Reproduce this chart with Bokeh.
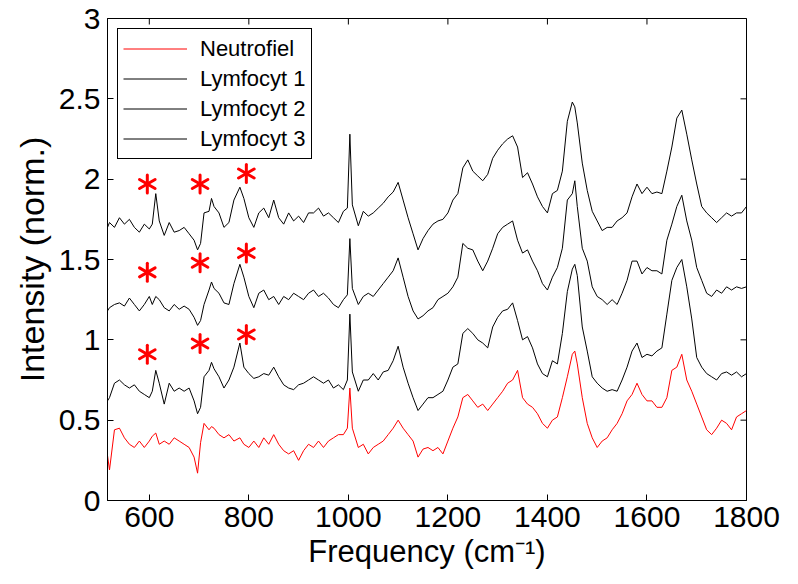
import math
from bokeh.plotting import figure
from bokeh.models import Range1d, FixedTicker, Legend, LegendItem, ColumnDataSource
from bokeh.embed import file_html
from bokeh.resources import INLINE

# ---------------- data ----------------
freq = [516, 520, 530, 540, 550, 560, 570, 580, 590, 600,
        606, 613, 620, 630, 640, 650, 660, 670, 680, 690,
        697, 703, 710, 720, 725, 730, 740, 750, 760, 770,
        782, 790, 800, 810, 820, 830, 840, 850, 860, 870,
        880, 890, 900, 910, 920, 930, 940, 950, 960, 970,
        980, 990, 998, 1003, 1008, 1020, 1030, 1040, 1050, 1060,
        1070, 1080, 1090, 1100, 1110, 1120, 1130, 1140, 1150, 1160,
        1170, 1180, 1190, 1200, 1210, 1220, 1230, 1240, 1250, 1260,
        1270, 1280, 1290, 1300, 1310, 1320, 1330, 1340, 1350, 1360,
        1370, 1380, 1390, 1400, 1410, 1420, 1430, 1440, 1450, 1455,
        1460, 1470, 1480, 1490, 1500, 1510, 1520, 1530, 1540, 1550,
        1560, 1570, 1580, 1590, 1600, 1610, 1620, 1630, 1640, 1650,
        1660, 1670, 1680, 1690, 1700, 1710, 1720, 1730, 1740, 1750,
        1760, 1770, 1780, 1790, 1800]

neutrofiel = [0.28, 0.19, 0.44, 0.45, 0.39, 0.35, 0.33, 0.37, 0.33, 0.37,
              0.40, 0.42, 0.35, 0.37, 0.35, 0.39, 0.37, 0.35, 0.33, 0.27,
              0.17, 0.36, 0.48, 0.44, 0.46, 0.45, 0.41, 0.39, 0.41, 0.37,
              0.39, 0.35, 0.33, 0.37, 0.33, 0.39, 0.35, 0.41, 0.35, 0.31,
              0.29, 0.31, 0.25, 0.31, 0.35, 0.33, 0.37, 0.33, 0.37, 0.39,
              0.41, 0.41, 0.45, 0.70, 0.45, 0.33, 0.35, 0.29, 0.33, 0.35,
              0.37, 0.41, 0.45, 0.50, 0.45, 0.41, 0.37, 0.27, 0.32, 0.33,
              0.31, 0.33, 0.29, 0.37, 0.45, 0.52, 0.64, 0.66, 0.62, 0.58,
              0.60, 0.56, 0.60, 0.64, 0.68, 0.73, 0.75, 0.81, 0.64, 0.60,
              0.58, 0.54, 0.48, 0.45, 0.50, 0.52, 0.64, 0.77, 0.91, 0.93,
              0.85, 0.64, 0.48, 0.39, 0.33, 0.37, 0.39, 0.44, 0.48, 0.54,
              0.62, 0.66, 0.73, 0.66, 0.62, 0.62, 0.58, 0.58, 0.64, 0.81,
              0.83, 0.91, 0.75, 0.68, 0.60, 0.52, 0.44, 0.41, 0.45, 0.50,
              0.48, 0.44, 0.52, 0.54, 0.56]

lymfocyt1 = [0.62, 0.64, 0.73, 0.75, 0.72, 0.70, 0.72, 0.68, 0.66, 0.64,
             0.68, 0.81, 0.73, 0.60, 0.73, 0.68, 0.70, 0.68, 0.70, 0.62,
             0.54, 0.58, 0.77, 0.81, 0.86, 0.82, 0.77, 0.70, 0.75, 0.83,
             0.98, 0.83, 0.79, 0.76, 0.77, 0.79, 0.78, 0.83, 0.77, 0.72,
             0.70, 0.69, 0.72, 0.73, 0.75, 0.77, 0.75, 0.73, 0.75, 0.70,
             0.72, 0.69, 0.75, 1.16, 0.80, 0.68, 0.75, 0.75, 0.79, 0.75,
             0.80, 0.81, 0.87, 0.96, 0.83, 0.73, 0.64, 0.56, 0.60, 0.64,
             0.64, 0.66, 0.68, 0.75, 0.83, 0.85, 1.04, 1.07, 1.04, 1.00,
             0.98, 0.95, 1.08, 1.14, 1.18, 1.19, 1.23, 1.12, 1.00, 1.02,
             0.95, 0.85, 0.79, 0.77, 0.87, 0.85, 1.04, 1.30, 1.44, 1.47,
             1.40, 1.08, 0.93, 0.77, 0.73, 0.70, 0.68, 0.69, 0.68, 0.75,
             0.83, 0.93, 0.98, 0.89, 0.91, 0.90, 0.93, 0.95, 1.16, 1.37,
             1.45, 1.50, 1.33, 1.13, 0.89, 0.83, 0.79, 0.77, 0.75, 0.79,
             0.80, 0.78, 0.80, 0.77, 0.79]

lymfocyt2 = [1.18, 1.20, 1.22, 1.23, 1.21, 1.26, 1.22, 1.18, 1.22, 1.27,
             1.22, 1.27, 1.25, 1.20, 1.18, 1.22, 1.19, 1.21, 1.19, 1.14,
             1.09, 1.12, 1.22, 1.31, 1.36, 1.32, 1.29, 1.23, 1.22, 1.35,
             1.47, 1.39, 1.27, 1.20, 1.29, 1.31, 1.25, 1.27, 1.22, 1.27,
             1.25, 1.29, 1.27, 1.25, 1.29, 1.31, 1.27, 1.29, 1.26, 1.22,
             1.20, 1.25, 1.28, 1.63, 1.32, 1.22, 1.27, 1.29, 1.27, 1.31,
             1.35, 1.39, 1.43, 1.51, 1.39, 1.27, 1.18, 1.13, 1.15, 1.18,
             1.20, 1.25, 1.27, 1.29, 1.33, 1.39, 1.60, 1.57, 1.56, 1.49,
             1.43, 1.49, 1.57, 1.66, 1.70, 1.72, 1.74, 1.62, 1.54, 1.56,
             1.49, 1.43, 1.35, 1.31, 1.39, 1.45, 1.57, 1.87, 1.91, 1.99,
             1.83, 1.57, 1.49, 1.33, 1.27, 1.25, 1.22, 1.25, 1.22, 1.29,
             1.37, 1.49, 1.49, 1.41, 1.45, 1.43, 1.43, 1.41, 1.62, 1.72,
             1.83, 1.90, 1.74, 1.62, 1.45, 1.37, 1.29, 1.27, 1.31, 1.29,
             1.33, 1.31, 1.33, 1.32, 1.33]

lymfocyt3 = [1.70, 1.73, 1.70, 1.76, 1.72, 1.75, 1.70, 1.67, 1.72, 1.69,
             1.72, 1.91, 1.74, 1.65, 1.73, 1.67, 1.68, 1.70, 1.66, 1.62,
             1.56, 1.60, 1.79, 1.80, 1.88, 1.83, 1.79, 1.70, 1.73, 1.87,
             1.95, 1.88, 1.76, 1.70, 1.79, 1.82, 1.76, 1.87, 1.76, 1.72,
             1.79, 1.74, 1.77, 1.73, 1.79, 1.79, 1.82, 1.77, 1.79, 1.76,
             1.73, 1.80, 1.82, 2.28, 1.84, 1.71, 1.80, 1.77, 1.79, 1.82,
             1.85, 1.89, 1.92, 1.98, 1.87, 1.76, 1.66, 1.56, 1.63, 1.68,
             1.72, 1.74, 1.75, 1.79, 1.87, 1.91, 2.07, 2.12, 2.05, 2.02,
             1.99, 2.03, 2.13, 2.18, 2.22, 2.25, 2.27, 2.20, 2.01, 2.04,
             1.97, 1.89, 1.83, 1.79, 1.91, 1.93, 2.05, 2.36, 2.48, 2.45,
             2.35, 2.10, 1.93, 1.80, 1.74, 1.68, 1.70, 1.70, 1.74, 1.76,
             1.79, 1.89, 1.97, 1.91, 1.95, 1.91, 1.92, 1.91, 2.05, 2.20,
             2.38, 2.43, 2.28, 2.12, 1.97, 1.83, 1.79, 1.76, 1.73, 1.76,
             1.79, 1.77, 1.79, 1.79, 1.83]

series_names = ["Neutrofiel", "Lymfocyt 1", "Lymfocyt 2", "Lymfocyt 3"]
series_colors = ["#FF0000", "#000000", "#000000", "#000000"]

# marked bands (asterisks)
star_x = [596, 702, 795, 596, 702, 795, 596, 702, 795]
star_y = [1.97, 1.97, 2.035, 1.42, 1.48, 1.54, 0.91, 0.977, 1.033]

x_ticks = [600, 800, 1000, 1200, 1400, 1600, 1800]
y_ticks = [0, 0.5, 1, 1.5, 2, 2.5, 3]
y_tick_labels = ["0", "0.5", "1", "1.5", "2", "2.5", "3"]
x_min, x_max = 516, 1800
y_min, y_max = 0, 3

x_title = "Frequency (cm\u207b\u00b9)"
y_title = "Intensity (norm.)"

# ---------------- figure ----------------
FONT = "Liberation Sans"

p = figure(frame_width=639, frame_height=482,
           x_range=Range1d(x_min, x_max), y_range=Range1d(y_min, y_max),
           output_backend="svg", toolbar_location=None,
           min_border_left=107, min_border_right=50,
           min_border_top=18, min_border_bottom=82,
           x_axis_label=x_title, y_axis_label=y_title)

p.xgrid.visible = False
p.ygrid.visible = False
p.outline_line_color = "black"
p.outline_line_alpha = 1
p.background_fill_color = "white"
p.border_fill_color = "white"

renderers = []
for name, ys, col in zip(series_names, [neutrofiel, lymfocyt1, lymfocyt2, lymfocyt3], series_colors):
    src = ColumnDataSource(dict(x=freq, y=ys))
    r = p.line("x", "y", source=src, line_color=col, line_width=1)
    renderers.append((name, r))

# six-armed red asterisks
for ang in (math.pi / 2, math.pi / 6, -math.pi / 6):
    p.scatter(star_x, star_y, marker="dash", angle=ang, size=18,
              line_color="#FF0000", line_width=3, line_cap="round")

# mirrored inward ticks on top and right edges (clipped to the frame)
p.scatter(x_ticks, [y_max] * len(x_ticks), marker="dash", angle=math.pi / 2,
          size=12, line_color="black", line_width=1)
p.scatter([x_max] * len(y_ticks), y_ticks, marker="dash", angle=0,
          size=12, line_color="black", line_width=1)

def style_axis(ax):
    ax.axis_line_color = "black"
    ax.major_tick_line_color = "black"
    ax.major_tick_in = 6
    ax.major_tick_out = 0
    ax.minor_tick_line_color = None
    ax.major_label_text_font = FONT
    ax.major_label_text_color = "black"
    ax.major_label_text_font_size = "30px"
    ax.axis_label_text_font = FONT
    ax.axis_label_text_font_style = "normal"
    ax.axis_label_text_color = "black"

xa = p.xaxis[0]
xa.ticker = FixedTicker(ticks=x_ticks)
style_axis(xa)
xa.major_label_standoff = 6
xa.axis_label_text_font_size = "31px"
xa.axis_label_standoff = 4

ya = p.yaxis[0]
ya.ticker = FixedTicker(ticks=y_ticks)
ya.major_label_overrides = {t: l for t, l in zip(y_ticks, y_tick_labels)}
style_axis(ya)
ya.major_label_standoff = 7
ya.axis_label_text_font_size = "34px"
ya.axis_label_standoff = 5

legend = Legend(items=[LegendItem(label=n, renderers=[r]) for n, r in renderers],
                location="top_left")
legend.margin = 10
legend.padding = 5
legend.spacing = 1
legend.glyph_width = 64
legend.glyph_height = 29
legend.label_height = 29
legend.label_standoff = 13
legend.label_text_font = FONT
legend.label_text_font_size = "22px"
legend.label_text_color = "black"
legend.border_line_color = "black"
legend.border_line_width = 1
legend.border_line_alpha = 1
legend.background_fill_color = "white"
legend.background_fill_alpha = 1
p.add_layout(legend, "center")

open("out.html", "w").write(file_html(p, INLINE))
